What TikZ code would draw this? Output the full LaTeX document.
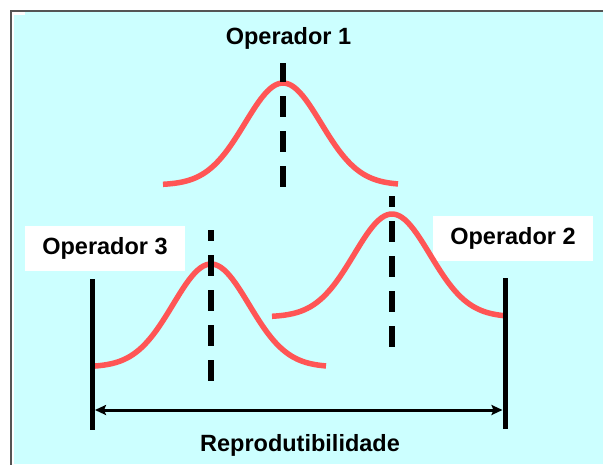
\documentclass[tikz,border=0pt]{standalone}
\usepackage{fontspec}
\setmainfont{Liberation Sans}
\usepackage{xcolor}
\usetikzlibrary{arrows.meta,positioning}
\definecolor{bgcyan}{RGB}{204,255,255}
\definecolor{curvered}{RGB}{255,85,85}
\definecolor{framegray}{RGB}{85,85,85}

\begin{document}
\begin{tikzpicture}[
    x=1pt, y=-1pt,
    label/.style={rectangle, fill=white, minimum width=160pt, minimum height=45pt, inner sep=0pt, align=center, font=\fontsize{23.5}{28}\selectfont\bfseries},
    title/.style={inner sep=0pt, font=\fontsize{23.5}{28}\selectfont\bfseries},
    curve/.style={curvered, line width=5.5pt, line join=round},
    meanline/.style={black, line width=6pt, dash pattern=on 21pt off 14pt},
    limit/.style={black, line width=5pt},
    dimarr/.style={{Stealth[length=11pt, width=10pt, inset=2pt]}-{Stealth[length=11pt, width=10pt, inset=2pt]}, line width=3pt},
  ]
    \useasboundingbox (0,0) rectangle (603,464);

    % --- background and frame ---
    \fill[bgcyan] (14,12) rectangle (603,464);
    \fill[white] (14,12) rectangle (25,15);
    \draw[framegray, line width=1.5pt] (10.75,470) -- (10.75,10.75) -- (610,10.75);

    % --- Operador 1 ---
    \node[title] (op1) at (288.5,38) {Operador 1};
    \draw[curve] plot[domain=-120:115, samples=80] ({283+\x},{185-102*exp(-(\x/38)^2/2)});
    \coordinate (m1top) at (283,63);
    \coordinate (m1bot) at (283,187);
    \draw[meanline, dash phase=2pt] (m1top) -- (m1bot);

    % --- Operador 2 ---
    \node[label] (op2) at (513,238.5) {Operador 2};
    \draw[curve] plot[domain=-120:113, samples=80] ({392+\x},{317-103*exp(-(\x/38)^2/2)});
    \coordinate (m2top) at (392,196);
    \coordinate (m2bot) at (392,349);
    \draw[meanline, dash phase=10pt] (m2top) -- (m2bot);

    % --- Operador 3 ---
    \node[label] (op3) at (105,248.5) {Operador 3};
    \draw[curve] plot[domain=-116:115, samples=80] ({211+\x},{367-103*exp(-(\x/38)^2/2)});
    \coordinate (m3top) at (211,230);
    \coordinate (m3bot) at (211,383);
    \draw[meanline, dash phase=10pt] (m3top) -- (m3bot);

    % --- limits and range ---
    \coordinate (l3top) at (92,279);
    \coordinate (l3bot) at (92,430);
    \coordinate (l2top) at (505,278);
    \coordinate (l2bot) at (505,429);
    \draw[limit] (l3top) -- (l3bot);
    \draw[limit] (l2top) -- (l2bot);

    \coordinate (rleft) at (95,410);
    \coordinate (rright) at (502.5,410);
    \draw[dimarr] (rleft) -- (rright);
    \node[title] (repro) at (300,445) {Reprodutibilidade};

  \end{tikzpicture}
\end{document}
